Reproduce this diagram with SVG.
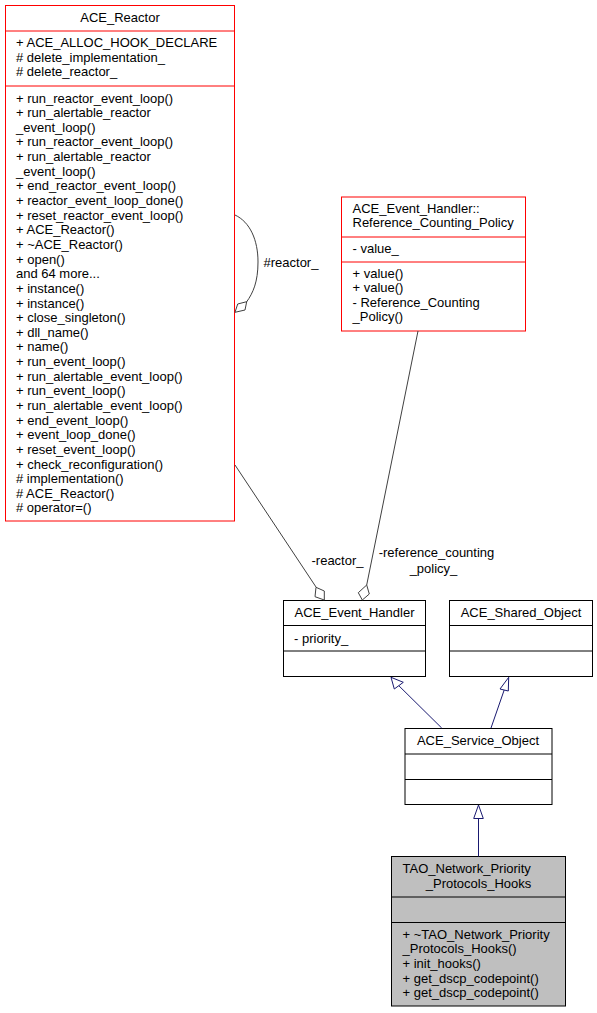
<svg xmlns="http://www.w3.org/2000/svg" width="597" height="1013" viewBox="0 0 597 1013">
<style>
text{font-family:"Liberation Sans",Arial,sans-serif;font-size:13px;fill:#000}
.mid{text-anchor:middle}
.red{fill:#fff;stroke:#ff0000;stroke-width:1}
.blk{fill:#fff;stroke:#000;stroke-width:1}
.gry{fill:#bfbfbf;stroke:#000;stroke-width:1}
.redl{stroke:#ff0000;stroke-width:1}
.blkl{stroke:#000;stroke-width:1}
.agg{fill:none;stroke:#404040;stroke-width:1}
.dia{fill:#fff;stroke:#404040;stroke-width:1}
.inh{fill:none;stroke:#191970;stroke-width:1}
.tri{fill:#fff;stroke:#191970;stroke-width:1}
</style>
<rect width="597" height="1013" fill="#fff"/>
<g id="ACE_Reactor">
<rect class="red" x="5.5" y="5.5" width="229" height="515.5"/>
<line class="redl" x1="5.5" y1="31" x2="234.5" y2="31"/>
<line class="redl" x1="5.5" y1="86" x2="234.5" y2="86"/>
<text class="mid" x="120" y="21.5">ACE_Reactor</text>
<text x="16" y="47">+ ACE_ALLOC_HOOK_DECLARE</text>
<text x="16" y="61.5"># delete_implementation_</text>
<text x="16" y="76"># delete_reactor_</text>
<text x="16" y="102.5">+ run_reactor_event_loop()</text>
<text x="16" y="117.1">+ run_alertable_reactor</text>
<text x="16" y="131.8">_event_loop()</text>
<text x="16" y="146.4">+ run_reactor_event_loop()</text>
<text x="16" y="161.1">+ run_alertable_reactor</text>
<text x="16" y="175.7">_event_loop()</text>
<text x="16" y="190.3">+ end_reactor_event_loop()</text>
<text x="16" y="205">+ reactor_event_loop_done()</text>
<text x="16" y="219.6">+ reset_reactor_event_loop()</text>
<text x="16" y="234.3">+ ACE_Reactor()</text>
<text x="16" y="248.9">+ ~ACE_Reactor()</text>
<text x="16" y="263.5">+ open()</text>
<text x="16" y="278.2">and 64 more...</text>
<text x="16" y="292.8">+ instance()</text>
<text x="16" y="307.5">+ instance()</text>
<text x="16" y="322.1">+ close_singleton()</text>
<text x="16" y="336.7">+ dll_name()</text>
<text x="16" y="351.4">+ name()</text>
<text x="16" y="366">+ run_event_loop()</text>
<text x="16" y="380.7">+ run_alertable_event_loop()</text>
<text x="16" y="395.3">+ run_event_loop()</text>
<text x="16" y="409.9">+ run_alertable_event_loop()</text>
<text x="16" y="424.6">+ end_event_loop()</text>
<text x="16" y="439.2">+ event_loop_done()</text>
<text x="16" y="453.9">+ reset_event_loop()</text>
<text x="16" y="468.5">+ check_reconfiguration()</text>
<text x="16" y="483.1"># implementation()</text>
<text x="16" y="497.8"># ACE_Reactor()</text>
<text x="16" y="512.4"># operator=()</text>
</g>
<g id="Reference_Counting_Policy">
<rect class="red" x="341.5" y="197" width="184" height="134"/>
<line class="redl" x1="341.5" y1="237" x2="525.5" y2="237"/>
<line class="redl" x1="341.5" y1="262" x2="525.5" y2="262"/>
<text x="352.5" y="212.5">ACE_Event_Handler::</text>
<text x="352.5" y="226.5">Reference_Counting_Policy</text>
<text x="352.5" y="253">- value_</text>
<text x="352.5" y="277.5">+ value()</text>
<text x="352.5" y="292">+ value()</text>
<text x="352.5" y="306.8">- Reference_Counting</text>
<text x="352.5" y="321.3">_Policy()</text>
</g>
<g id="ACE_Event_Handler">
<rect class="blk" x="283.5" y="600.5" width="142" height="76"/>
<line class="blkl" x1="283.5" y1="625.5" x2="425.5" y2="625.5"/>
<line class="blkl" x1="283.5" y1="651" x2="425.5" y2="651"/>
<text class="mid" x="354.5" y="616.5">ACE_Event_Handler</text>
<text x="294" y="642.5">- priority_</text>
</g>
<g id="ACE_Shared_Object">
<rect class="blk" x="449.5" y="600.5" width="143" height="76"/>
<line class="blkl" x1="449.5" y1="625.5" x2="592.5" y2="625.5"/>
<line class="blkl" x1="449.5" y1="651" x2="592.5" y2="651"/>
<text class="mid" x="521" y="616.5">ACE_Shared_Object</text>
</g>
<g id="ACE_Service_Object">
<rect class="blk" x="405" y="728.5" width="147" height="76"/>
<line class="blkl" x1="405" y1="754" x2="552" y2="754"/>
<line class="blkl" x1="405" y1="779.5" x2="552" y2="779.5"/>
<text class="mid" x="478" y="745">ACE_Service_Object</text>
</g>
<g id="TAO_Network_Priority_Protocols_Hooks">
<rect class="gry" x="391.5" y="856.5" width="174" height="149.5"/>
<line class="blkl" x1="391.5" y1="897" x2="565.5" y2="897"/>
<line class="blkl" x1="391.5" y1="922.5" x2="565.5" y2="922.5"/>
<text x="402.5" y="873">TAO_Network_Priority</text>
<text class="mid" x="478.5" y="887.5">_Protocols_Hooks</text>
<text x="402.5" y="939">+ ~TAO_Network_Priority</text>
<text x="402.5" y="952.5">_Protocols_Hooks()</text>
<text x="402.5" y="967.5">+ init_hooks()</text>
<text x="402.5" y="982.5">+ get_dscp_codepoint()</text>
<text x="402.5" y="997">+ get_dscp_codepoint()</text>
</g>
<g id="connectors">
<path class="agg" d="M235,215 C250,222 258,240 258,262 C258,282 253,293 246.5,302"/>
<polygon class="dia" points="246.7,301.7 245,310 235,312.3 237.7,304"/>
<text x="263.5" y="267">#reactor_</text>
<path class="agg" d="M235,465 L316,587"/>
<polygon class="dia" points="316,587.3 315,596.7 324.3,600 324.3,591"/>
<text x="311.5" y="565">-reactor_</text>
<path class="agg" d="M418,331 L366.7,585"/>
<polygon class="dia" points="366.7,585 358.3,592.7 362.3,600 369.3,594"/>
<text class="mid" x="436.5" y="557">-reference_counting</text>
<text class="mid" x="433.5" y="572.5">_policy_</text>
<path class="inh" d="M441.7,728 L398.8,685.7"/>
<polygon class="tri" points="391,677.3 394.3,689 403.3,682.3"/>
<path class="inh" d="M491,728 L504.2,690"/>
<polygon class="tri" points="508.7,677.3 500,689 508.3,691"/>
<path class="inh" d="M478.5,856.5 L478.5,818.5"/>
<polygon class="tri" points="478.5,805 473.7,818.5 483.3,818.5"/>
</g>
</svg>
